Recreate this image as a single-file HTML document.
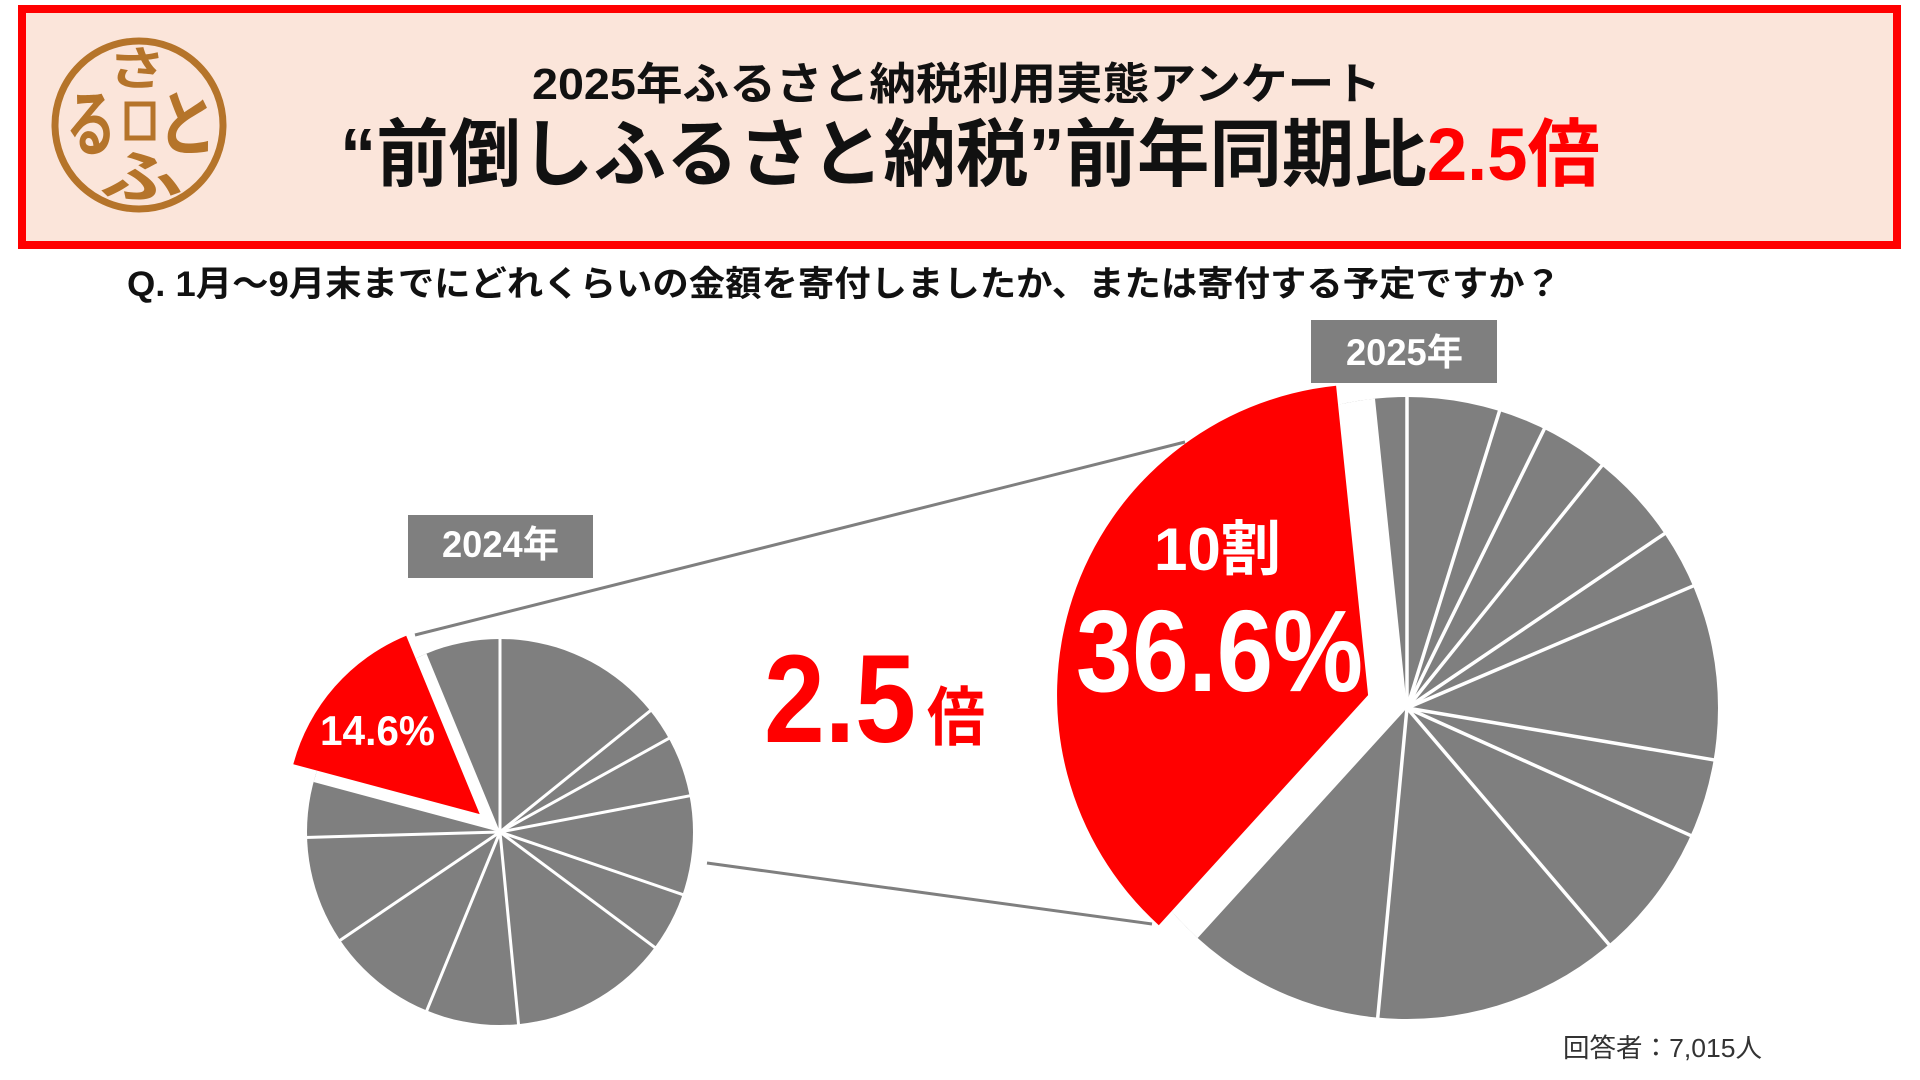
<!DOCTYPE html>
<html>
<head>
<meta charset="utf-8">
<style>
  html,body{margin:0;padding:0;background:#ffffff;}
  body{width:1920px;height:1080px;overflow:hidden;}
  svg{display:block;}
  .sans{font-family:"Liberation Sans","Noto Sans CJK JP",sans-serif;}
  .jp{font-family:"Noto Sans CJK JP",sans-serif;}
</style>
</head>
<body>
<svg width="1920" height="1080" viewBox="0 0 1920 1080" xmlns="http://www.w3.org/2000/svg">
  <rect x="0" y="0" width="1920" height="1080" fill="#ffffff"/>

  <!-- Header box -->
  <rect x="22" y="9" width="1875" height="236" fill="#fbe5da" stroke="#ff0000" stroke-width="8"/>

  <!-- Logo -->
  <g fill="#b5742a">
    <circle cx="139" cy="125" r="84" fill="none" stroke="#b5742a" stroke-width="7"/>
    <text class="jp" x="108" y="85" font-size="46" font-weight="bold" textLength="58" lengthAdjust="spacingAndGlyphs">さ</text>
    <rect x="127" y="104" width="26" height="34" fill="none" stroke="#b5742a" stroke-width="5"/>
    <text class="jp" x="99" y="197" font-size="56" font-weight="bold" textLength="84" lengthAdjust="spacingAndGlyphs">ふ</text>
    <text class="jp" x="66" y="150" font-size="72" font-weight="bold" textLength="50" lengthAdjust="spacingAndGlyphs">る</text>
    <text class="jp" x="157" y="150" font-size="72" font-weight="bold" textLength="60" lengthAdjust="spacingAndGlyphs">と</text>
  </g>

  <!-- Titles -->
  <text class="sans" x="532" y="99" font-size="44" font-weight="bold" fill="#111" textLength="849" lengthAdjust="spacingAndGlyphs">2025年ふるさと納税利用実態アンケート</text>
  <text class="sans" x="340" y="180" font-size="74" font-weight="bold" fill="#111" textLength="1260" lengthAdjust="spacingAndGlyphs">“前倒しふるさと納税”前年同期比<tspan fill="#ff0000">2.5倍</tspan></text>

  <!-- Question -->
  <text class="sans" x="127" y="296" font-size="35" font-weight="bold" fill="#111" textLength="1434" lengthAdjust="spacingAndGlyphs">Q. 1月～9月末までにどれくらいの金額を寄付しましたか、または寄付する予定ですか？</text>

  <!-- Year labels -->
  <rect x="408" y="515" width="185" height="63" fill="#7f7f7f"/>
  <text class="sans" x="442" y="557" font-size="37" font-weight="bold" fill="#ffffff" textLength="117" lengthAdjust="spacingAndGlyphs">2024年</text>
  <rect x="1311" y="320" width="186" height="63" fill="#7f7f7f"/>
  <text class="sans" x="1346" y="365" font-size="37" font-weight="bold" fill="#ffffff" textLength="117" lengthAdjust="spacingAndGlyphs">2025年</text>

  <!-- Connector lines -->
  <line x1="415" y1="635" x2="1185" y2="442" stroke="#7f7f7f" stroke-width="3"/>
  <line x1="707" y1="863" x2="1152" y2="924" stroke="#7f7f7f" stroke-width="3"/>

  <!-- Small pie (2024) -->
  <g transform="translate(500,832)">
    <circle r="193" fill="#7f7f7f"/>
    <path transform="rotate(285)" d="M0,0 L0,-193 A193,193 0 0 1 153.3,-117.2 Z" fill="#ffffff"/>
    <g stroke="#ffffff" stroke-width="3">
      <line x1="0" y1="0" x2="0" y2="-195" transform="rotate(0)"/>
      <line x1="0" y1="0" x2="0" y2="-195" transform="rotate(51.1)"/>
      <line x1="0" y1="0" x2="0" y2="-195" transform="rotate(61)"/>
      <line x1="0" y1="0" x2="0" y2="-195" transform="rotate(79.2)"/>
      <line x1="0" y1="0" x2="0" y2="-195" transform="rotate(108.9)"/>
      <line x1="0" y1="0" x2="0" y2="-195" transform="rotate(126.7)"/>
      <line x1="0" y1="0" x2="0" y2="-195" transform="rotate(174.5)"/>
      <line x1="0" y1="0" x2="0" y2="-195" transform="rotate(202.3)"/>
      <line x1="0" y1="0" x2="0" y2="-195" transform="rotate(235.9)"/>
      <line x1="0" y1="0" x2="0" y2="-195" transform="rotate(268.4)"/>
    </g>
    <path transform="rotate(285) translate(12,-24.2)" d="M0,0 L0,-193 A193,193 0 0 1 153.3,-117.2 Z" fill="#ff0000"/>
  </g>

  <!-- Big pie (2025) -->
  <g transform="translate(1407,708)">
    <circle r="311" fill="#7f7f7f"/>
    <path transform="rotate(222.3)" d="M0,0 L0,-311 A311,311 0 0 1 231.9,207.3 Z" fill="#ffffff"/>
    <g stroke="#ffffff" stroke-width="3.5">
      <line x1="0" y1="0" x2="0" y2="-313" transform="rotate(0)"/>
      <line x1="0" y1="0" x2="0" y2="-313" transform="rotate(17.3)"/>
      <line x1="0" y1="0" x2="0" y2="-313" transform="rotate(26.2)"/>
      <line x1="0" y1="0" x2="0" y2="-313" transform="rotate(38.8)"/>
      <line x1="0" y1="0" x2="0" y2="-313" transform="rotate(55.9)"/>
      <line x1="0" y1="0" x2="0" y2="-313" transform="rotate(66.9)"/>
      <line x1="0" y1="0" x2="0" y2="-313" transform="rotate(99.6)"/>
      <line x1="0" y1="0" x2="0" y2="-313" transform="rotate(114.2)"/>
      <line x1="0" y1="0" x2="0" y2="-313" transform="rotate(139.5)"/>
      <line x1="0" y1="0" x2="0" y2="-313" transform="rotate(185.4)"/>
    </g>
    <path transform="rotate(222.3) translate(37.4,-16.7)" d="M0,0 L0,-311 A311,311 0 0 1 231.9,207.3 Z" fill="#ff0000"/>
  </g>

  <!-- Slice labels -->
  <text class="sans" x="320" y="745" font-size="42" font-weight="bold" fill="#ffffff" textLength="115" lengthAdjust="spacingAndGlyphs">14.6%</text>
  <text class="sans" x="1154" y="570" font-size="60" font-weight="bold" fill="#ffffff" textLength="127" lengthAdjust="spacingAndGlyphs">10割</text>
  <text class="sans" x="1076" y="691" font-size="116" font-weight="bold" fill="#ffffff" textLength="287" lengthAdjust="spacingAndGlyphs">36.6%</text>

  <!-- 2.5倍 -->
  <text class="sans" x="764" y="742" font-size="125" font-weight="bold" fill="#ff0000" textLength="152" lengthAdjust="spacingAndGlyphs">2.5</text>
  <text class="sans" x="927" y="740" font-size="64" font-weight="bold" fill="#ff0000" textLength="58" lengthAdjust="spacingAndGlyphs">倍</text>

  <!-- Footnote -->
  <text class="sans" x="1563" y="1057" font-size="26" fill="#333333" textLength="199" lengthAdjust="spacingAndGlyphs">回答者：7,015人</text>
</svg>
</body>
</html>
